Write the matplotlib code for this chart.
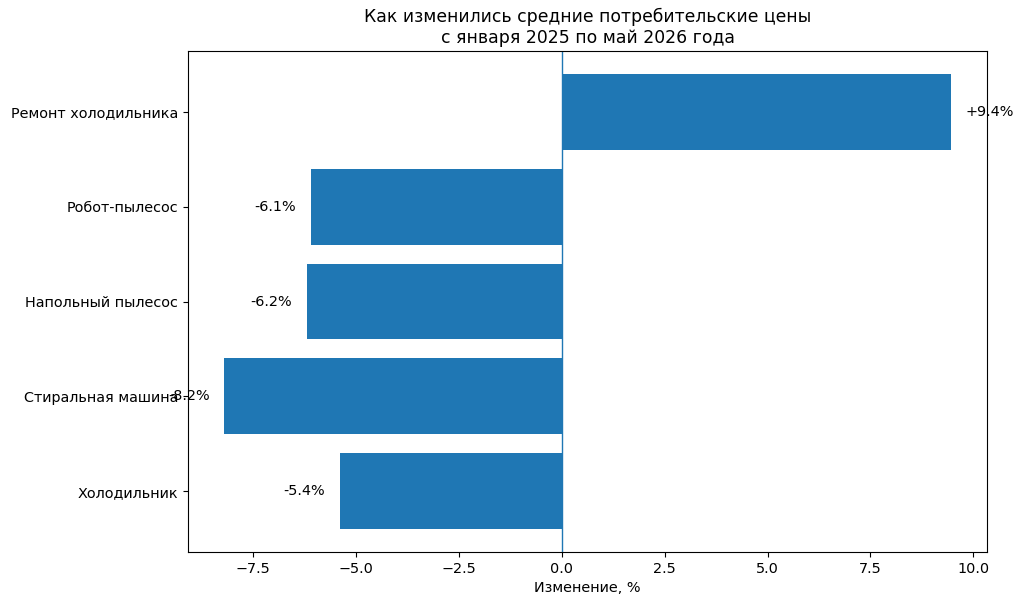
import matplotlib
matplotlib.use("Agg")
import matplotlib.pyplot as plt

categories = ["Холодильник", "Стиральная машина", "Напольный пылесос", "Робот-пылесос", "Ремонт холодильника"]
values = [-5.4, -8.2, -6.2, -6.1, 9.45]
labels = ["-5.4%", "-8.2%", "-6.2%", "-6.1%", "+9.4%"]

plt.rcParams["font.size"] = 10.4
fig = plt.figure(figsize=(10.24, 6.06), dpi=100)
ax = fig.add_axes([0.1836, 0.0891, 0.9639 - 0.1836, 0.9158 - 0.0891])
color = "#1f77b4"
ax.barh(categories, values, color=color)
ax.axvline(0, color=color, linewidth=1)
for i, (v, lab) in enumerate(zip(values, labels)):
    if v >= 0:
        ax.text(v + 0.35, i, lab, ha="left", va="center", fontsize=10.4)
    else:
        ax.text(v - 0.35, i, lab, ha="right", va="center", fontsize=10.4)
ax.set_xlabel("Изменение, %")
ax.set_title("Как изменились средние потребительские цены\nс января 2025 по май 2026 года", fontsize=12.45)
fig.savefig("out.png", dpi=100)
